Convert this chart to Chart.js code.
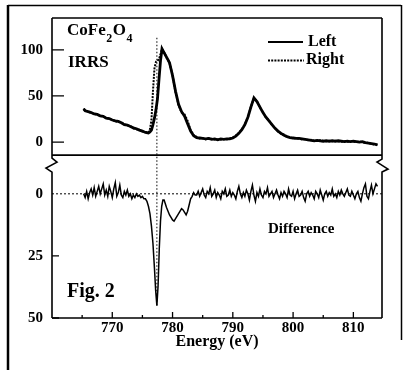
<!DOCTYPE html>
<html><head><meta charset="utf-8">
<script src="https://cdn.jsdelivr.net/npm/chart.js@4"></script>
<style>html,body{margin:0;padding:0;background:#fff;}#wrap{width:405px;height:370px;position:relative;}</style>
</head><body><div id="wrap"><canvas id="c" width="405" height="370"></canvas></div>
<script>
// ---------- data ----------
const energyTop = [
765.25,765.5,766,766.5,767,767.5,768,768.5,769,769.5,
770,770.5,771,771.5,772,772.5,773,773.5,774,774.5,
775,775.5,776,776.25,776.5,776.75,777,777.25,777.5,777.75,
778,778.25,778.5,778.75,779,779.25,779.5,780,780.5,781,
781.5,782,782.5,783,783.5,784,784.5,785,785.5,786,
786.5,787,787.5,788,788.5,789,789.5,790,790.5,791,
791.5,792,792.5,793,793.5,794,794.5,795,795.5,796,
796.5,797,797.5,798,798.5,799,799.5,800,800.5,801,
801.5,802,802.5,803,803.5,804,804.5,805,805.5,806,
806.5,807,807.5,808,808.5,809,809.5,810,810.5,811,
811.5,812,812.5,813,813.5,814];
const leftIntensity = [
36,34,33,32,30.5,30,28.5,28,26,25.5,
24,23,22.5,21,19,18.5,17,15.5,14.5,13,
12,10.5,10,11,13,19,26,35,47,68,
88,101,98,95,92,89,86,72,55,41,
33,28,20,12,7,5,4.5,4,3.5,4,
3,3.5,2.5,3.5,3,3.5,3.5,4.5,6.5,9.5,
13.5,19,27,38,48,44,38,32,27,23,
19,15,12,9.5,7.5,6,5,4.5,4,4,
3.5,3,2.5,2,1.5,2,1.5,1,1.5,1,
1.5,1,1.5,1,0.5,1,0.5,1,0.5,0,
0.5,-0.5,-1,-1.5,-2,-3];
const rightIntensity = [
36.5,34,33.5,31.5,31,29.5,29,27.5,26.5,25,
24.5,22.5,22,21.5,19.5,18,17.5,15,14,13.5,
11.5,11,10.5,14,24,55,80,87,88,90,
95,101,98.5,95.5,91.5,89,85.5,72.5,54,40,
32,30,23,13,7.5,5.5,4,4.5,3,4.5,
3.5,3,3,3,3.5,3,4,5,7,10,
14,19.5,26.5,38.5,47.5,44.5,37.5,32.5,26.5,23.5,
18.5,15.5,11.5,9,8,5.5,5.5,4,4.5,3.5,
3,3.5,2,2.5,1.5,1.5,2,1.5,1,1.5,
1,1.5,1,0.5,1,0.5,1,0.5,0,0.5,
0,-1,-0.5,-2,-2.5,-3];
const energyDiff = [
765.25,765.5,765.75,766,766.25,766.5,766.75,767,767.25,767.5,767.75,
768,768.25,768.5,768.75,769,769.25,769.5,769.75,
770,770.25,770.5,770.75,771,771.25,771.5,771.75,
772,772.25,772.5,772.75,773,773.25,773.5,773.75,
774,774.25,774.5,774.75,775,775.25,775.5,775.75,
776,776.25,776.5,776.75,777,777.2,777.4,777.6,777.8,
778,778.2,778.4,778.6,778.8,779,779.25,779.5,779.75,
780,780.25,780.5,780.75,781,781.25,781.5,781.75,
782,782.25,782.5,782.75,783,783.25,783.5,783.75,
784,784.25,784.5,784.75,785,785.25,785.5,785.75,
786,786.25,786.5,786.75,787,787.25,787.5,787.75,
788,788.25,788.5,788.75,789,789.25,789.5,789.75,
790,790.25,790.5,790.75,791,791.25,791.5,791.75,
792,792.25,792.5,792.75,793,793.25,793.5,793.75,
794,794.25,794.5,794.75,795,795.25,795.5,795.75,
796,796.25,796.5,796.75,797,797.25,797.5,797.75,
798,798.25,798.5,798.75,799,799.25,799.5,799.75,
800,800.25,800.5,800.75,801,801.25,801.5,801.75,
802,802.25,802.5,802.75,803,803.25,803.5,803.75,
804,804.25,804.5,804.75,805,805.25,805.5,805.75,
806,806.25,806.5,806.75,807,807.25,807.5,807.75,
808,808.25,808.5,808.75,809,809.25,809.5,809.75,
810,810.25,810.5,810.75,811,811.25,811.5,811.75,
812,812.25,812.5,812.75,813,813.25,813.5,813.75,814];
const difference = [
0,1.5,-1,2,-0.5,-2,0.5,-2.5,1,-1,-3,
0,-2,-4,0.5,-1.5,1,-3,-1,
1.5,-2,-4.5,1,-0.5,-3.5,0.5,1.5,
-1,0.5,-1.5,1,0,2,0.5,1.5,
0,1,0.5,1.5,1,2,2,3,
5,8,13,20,30,39,45,37,22,
11,5,2.5,2.5,4,5.5,7,8.5,9.5,
10.5,11,10,9,8,7,6,6.5,
7.5,8.5,7,4.5,2,1,-0.5,0.5,
0.5,-1,1,-0.5,-2,0.5,1.5,-1,
0,-2.5,1,0,-1.5,1.5,-0.5,0.5,
2,-1,0,-2,1,0.5,-1.5,1,
-0.5,0.5,2,-1,-3,0,1.5,-0.5,
1,-1.5,0,2.5,-1,-3.5,0.5,3,
-0.5,1,-2,0.5,1.5,-1,0,-2.5,
1,0,-1,1.5,0,-1.5,0.5,2,
-0.5,1,-1,0,1.5,-2,0.5,1,
-1,2,0,-1.5,1,0.5,-1,1.5,
3,0,-1,1,-0.5,0.5,2,-1,
0,1.5,-1.5,0.5,2.5,0,-1,1,
-0.5,0.5,-2,1,0,1.5,-1,0.5,
-1.5,0,1,-0.5,-2,0.5,1,-1,
0.5,2,0,-1,1.5,3,0,-2.5,
-4,1,2,-1,-3.5,0,-2,-4,-3];
const xTickValues = [770,780,790,800,810];
const xMinorTickValues = [765,775,785,795,805];
const topTickValues = [0,50,100];
const bottomTickValues = [0,25,50];
const markerEnergy = 777.4;

// ---------- chart ----------
Chart.defaults.color = '#000';
const FONT = 'Liberation Serif';

const decor = {
  id: 'decor',
  afterDatasetsDraw(chart) {
    const ctx = chart.ctx;
    const xs = chart.scales.x, yt = chart.scales.yTop, yb = chart.scales.yBottom;
    const L = chart.chartArea.left, R = chart.chartArea.right;
    const T = chart.chartArea.top, B = chart.chartArea.bottom;
    const sep = yt.bottom;
    ctx.save();
    ctx.strokeStyle = '#000';
    ctx.lineCap = 'butt';
    // outer frame
    ctx.lineWidth = 2.5;
    ctx.beginPath(); ctx.moveTo(8, 5); ctx.lineTo(8, 370); ctx.stroke();
    ctx.lineWidth = 1.5;
    ctx.beginPath(); ctx.moveTo(8, 5.5); ctx.lineTo(401, 5.5); ctx.stroke();
    ctx.beginPath(); ctx.moveTo(401.5, 5); ctx.lineTo(401.5, 340); ctx.stroke();
    // plot frame
    ctx.lineWidth = 1.6;
    ctx.beginPath();
    ctx.moveTo(L, B); ctx.lineTo(R, B);
    ctx.moveTo(L, T); ctx.lineTo(R, T);
    ctx.moveTo(L, sep); ctx.lineTo(R, sep);
    // left axis with break
    ctx.moveTo(L, T); ctx.lineTo(L, sep + 3);
    ctx.lineTo(L + 5, sep + 7); ctx.lineTo(L - 6, sep + 13); ctx.lineTo(L, sep + 17);
    ctx.lineTo(L, B);
    // right axis with break
    ctx.moveTo(R, T); ctx.lineTo(R, sep + 4);
    ctx.lineTo(R - 5, sep + 7); ctx.lineTo(R + 6, sep + 14); ctx.lineTo(R, sep + 17);
    ctx.lineTo(R, B);
    ctx.stroke();
    // y ticks (inward)
    ctx.lineWidth = 1.3;
    ctx.beginPath();
    topTickValues.forEach(v => { const p = yt.getPixelForValue(v); ctx.moveTo(L, p); ctx.lineTo(L + 12, p); });
    bottomTickValues.forEach(v => { if (v === 0) return; const p = yb.getPixelForValue(v); ctx.moveTo(L, p); ctx.lineTo(L + 7, p); });
    // x ticks (inward)
    xTickValues.forEach(v => { const p = xs.getPixelForValue(v); ctx.moveTo(p, B); ctx.lineTo(p, B - 6); });
    xMinorTickValues.forEach(v => { const p = xs.getPixelForValue(v); ctx.moveTo(p, B); ctx.lineTo(p, B - 3); });
    ctx.stroke();
    // dotted zero line of the difference panel
    ctx.lineWidth = 1;
    ctx.setLineDash([2, 2]);
    const z = yb.getPixelForValue(0);
    ctx.beginPath(); ctx.moveTo(L, z); ctx.lineTo(R, z); ctx.stroke();
    // dotted vertical marker
    const mx = xs.getPixelForValue(markerEnergy);
    ctx.setLineDash([1.5, 2]);
    ctx.beginPath(); ctx.moveTo(mx, yt.getPixelForValue(113)); ctx.lineTo(mx, yb.getPixelForValue(45)); ctx.stroke();
    // legend
    ctx.setLineDash([]);
    ctx.lineWidth = 1.8;
    ctx.beginPath(); ctx.moveTo(268, 42); ctx.lineTo(303, 42); ctx.stroke();
    ctx.setLineDash([2, 1.2]);
    ctx.beginPath(); ctx.moveTo(268, 60.5); ctx.lineTo(304, 60.5); ctx.stroke();
    ctx.setLineDash([]);
    // texts
    ctx.fillStyle = '#000';
    ctx.textBaseline = 'alphabetic';
    ctx.textAlign = 'left';
    const big = 'bold 17px "' + FONT + '"';
    const sub = 'bold 12px "' + FONT + '"';
    let x = 67;
    ctx.font = big; ctx.fillText('CoFe', x, 35); x += ctx.measureText('CoFe').width + 0.5;
    ctx.font = sub; ctx.fillText('2', x, 42); x += ctx.measureText('2').width + 0.5;
    ctx.font = big; ctx.fillText('O', x, 35); x += ctx.measureText('O').width + 0.5;
    ctx.font = sub; ctx.fillText('4', x, 42);
    ctx.font = big;
    ctx.fillText('IRRS', 68, 67);
    ctx.font = 'bold 16px "' + FONT + '"';
    ctx.fillText('Left', 308, 46);
    ctx.fillText('Right', 306, 64);
    ctx.font = 'bold 15px "' + FONT + '"';
    ctx.fillText('Difference', 268, 233);
    ctx.font = 'bold 20px "' + FONT + '"';
    ctx.fillText('Fig. 2', 67, 297);
    ctx.restore();
  }
};

const fixedTicks = vals => (scale) => { scale.ticks = vals.map(v => ({ value: v })); };
const tickFont = { family: FONT, size: 15, weight: 'bold' };

new Chart(document.getElementById('c'), {
  type: 'line',
  data: {
    datasets: [
      { label: 'Left', yAxisID: 'yTop',
        data: energyTop.map((e, i) => ({ x: e, y: leftIntensity[i] })),
        borderColor: '#000', borderWidth: 2.8, pointRadius: 0, tension: 0 },
      { label: 'Right', yAxisID: 'yTop',
        data: energyTop.map((e, i) => ({ x: e, y: rightIntensity[i] })),
        borderColor: '#000', borderWidth: 2, borderDash: [2, 1.2], pointRadius: 0, tension: 0 },
      { label: 'Difference', yAxisID: 'yBottom',
        data: energyDiff.map((e, i) => ({ x: e, y: difference[i] })),
        borderColor: '#000', borderWidth: 1.5, pointRadius: 0, tension: 0 }
    ]
  },
  options: {
    responsive: false,
    animation: false,
    devicePixelRatio: 1,
    layout: { padding: { left: 0, top: 16, right: 23, bottom: 15 } },
    plugins: { legend: { display: false }, tooltip: { enabled: false } },
    scales: {
      x: {
        type: 'linear', min: 760, max: 814.75,
        grid: { display: false, drawTicks: false }, border: { display: false },
        afterBuildTicks: fixedTicks(xTickValues),
        afterFit: s => { s.height = 37; },
        ticks: { padding: 1, font: tickFont, color: '#000' },
        title: { display: true, text: 'Energy (eV)', color: '#000', padding: { top: 2, bottom: 4 },
                 font: { family: FONT, size: 16, weight: 'bold' } }
      },
      yBottom: {
        type: 'linear', position: 'left', stack: 'panels', stackWeight: 164,
        min: -15.6, max: 50, reverse: true,
        grid: { display: false, drawTicks: false }, border: { display: false },
        afterBuildTicks: fixedTicks(bottomTickValues),
        afterFit: s => { s.width = 52; },
        ticks: { padding: 9, font: tickFont, color: '#000' }
      },
      yTop: {
        type: 'linear', position: 'left', stack: 'panels', stackWeight: 138,
        min: -14, max: 134.4,
        grid: { display: false, drawTicks: false }, border: { display: false },
        afterBuildTicks: fixedTicks(topTickValues),
        afterFit: s => { s.width = 52; },
        ticks: { padding: 9, font: tickFont, color: '#000' }
      }
    }
  },
  plugins: [decor]
});
</script>
</body></html>
